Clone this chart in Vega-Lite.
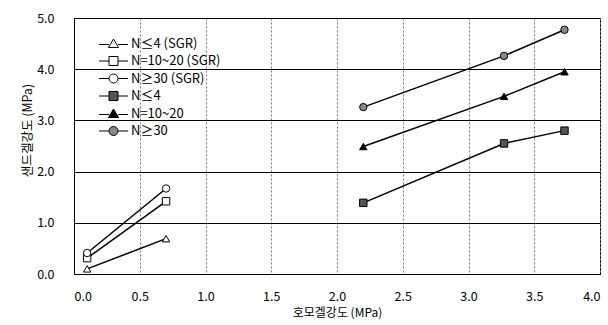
{
  "$schema": "https://vega.github.io/schema/vega-lite/v6.json",
  "width": 526,
  "height": 256,
  "autosize": {"type": "none"},
  "padding": {"left": 74, "top": 18, "right": 8, "bottom": 51},
  "background": "white",
  "config": {
    "font": "Noto Sans CJK KR",
    "view": {"stroke": "black", "strokeWidth": 1},
    "axis": {
      "labelFont": "Noto Sans CJK KR",
      "titleFont": "Noto Sans CJK KR",
      "labelFontSize": 12.5,
      "titleFontSize": 12.5,
      "titleFontWeight": "normal",
      "labelColor": "black",
      "titleColor": "black",
      "domainColor": "black",
      "ticks": false
    },
    "legend": {"labelFont": "Noto Sans CJK KR"}
  },
  "data": {
    "values": [
      {"series": "N≤4 (SGR)", "x": 0.1, "y": 0.1},
      {"series": "N≤4 (SGR)", "x": 0.7, "y": 0.69},
      {"series": "N=10~20 (SGR)", "x": 0.1, "y": 0.31},
      {"series": "N=10~20 (SGR)", "x": 0.7, "y": 1.42},
      {"series": "N≥30 (SGR)", "x": 0.1, "y": 0.41},
      {"series": "N≥30 (SGR)", "x": 0.7, "y": 1.67},
      {"series": "N≤4", "x": 2.2, "y": 1.39},
      {"series": "N≤4", "x": 3.27, "y": 2.55},
      {"series": "N≤4", "x": 3.73, "y": 2.8},
      {"series": "N=10~20", "x": 2.2, "y": 2.49},
      {"series": "N=10~20", "x": 3.27, "y": 3.47},
      {"series": "N=10~20", "x": 3.73, "y": 3.95},
      {"series": "N≥30", "x": 2.2, "y": 3.26},
      {"series": "N≥30", "x": 3.27, "y": 4.26},
      {"series": "N≥30", "x": 3.73, "y": 4.77}
    ]
  },
  "encoding": {
    "x": {
      "field": "x",
      "type": "quantitative",
      "scale": {"domain": [0, 4], "nice": false},
      "axis": {
        "title": "호모겔강도 (MPa)",
        "values": [0, 0.5, 1, 1.5, 2, 2.5, 3, 3.5, 4],
        "format": ".1f",
        "grid": true,
        "gridDash": [2, 2],
        "gridColor": "#777",
        "gridWidth": 1,
        "labelPadding": 16,
        "titlePadding": 5,
        "titleFontSize": 12
      }
    },
    "y": {
      "field": "y",
      "type": "quantitative",
      "scale": {"domain": [0, 5], "nice": false},
      "axis": {
        "title": "샌드겔강도 (MPa)",
        "values": [0, 1, 2, 3, 4, 5],
        "format": ".1f",
        "grid": true,
        "gridColor": "black",
        "gridWidth": 1,
        "gridOpacity": 1,
        "labelPadding": 20,
        "titlePadding": 2,
        "titleY": 112
      }
    }
  },
  "layer": [
    {
      "mark": {"type": "line", "color": "black", "strokeWidth": 1.5},
      "encoding": {"detail": {"field": "series"}}
    },
    {
      "mark": {"type": "point", "filled": true, "stroke": "black", "strokeWidth": 1, "size": 55, "opacity": 1},
      "encoding": {
        "shape": {
          "field": "series",
          "scale": {
            "domain": ["N≤4 (SGR)", "N=10~20 (SGR)", "N≥30 (SGR)", "N≤4", "N=10~20", "N≥30"],
            "range": ["triangle-up", "square", "circle", "square", "triangle-up", "circle"]
          },
          "legend": null
        },
        "fill": {
          "field": "series",
          "scale": {
            "domain": ["N≤4 (SGR)", "N=10~20 (SGR)", "N≥30 (SGR)", "N≤4", "N=10~20", "N≥30"],
            "range": ["white", "white", "white", "#555555", "black", "#888888"]
          },
          "legend": null
        }
      }
    },
    {
      "transform": [{"filter": "false"}],
      "mark": {"type": "point", "filled": true, "stroke": "black", "strokeWidth": 1, "size": 64, "opacity": 1},
      "encoding": {
        "shape": {
          "field": "series",
          "scale": {
            "domain": ["N≤4 (SGR)", "N=10~20 (SGR)", "N≥30 (SGR)", "N≤4", "N=10~20", "N≥30"],
            "range": [
              "M-2.9,0.2H-0.9M0.9,0.2H2.9M0,-0.9L1,0.8H-1Z",
              "M-2.9,0H-0.9M0.9,0H2.9M-0.9,-0.9H0.9V0.9H-0.9Z",
              "M-2.9,0H-0.9M0.9,0H2.9M-0.9,0A0.9,0.9,0,1,0,0.9,0A0.9,0.9,0,1,0,-0.9,0Z",
              "M-2.9,0H-0.9M0.9,0H2.9M-0.9,-0.9H0.9V0.9H-0.9Z",
              "M-2.9,0.2H-0.9M0.9,0.2H2.9M0,-0.9L1,0.8H-1Z",
              "M-2.9,0H-0.9M0.9,0H2.9M-0.9,0A0.9,0.9,0,1,0,0.9,0A0.9,0.9,0,1,0,-0.9,0Z"
            ]
          },
          "legend": {
            "title": null,
            "orient": "none",
            "legendX": 33,
            "legendY": 19,
            "padding": 0,
            "labelFontSize": 13,
            "labelColor": "black",
            "labelOffset": 11,
            "rowPadding": 3.5,
            "symbolStrokeWidth": 1
          }
        },
        "fill": {
          "field": "series",
          "scale": {
            "domain": ["N≤4 (SGR)", "N=10~20 (SGR)", "N≥30 (SGR)", "N≤4", "N=10~20", "N≥30"],
            "range": ["white", "white", "white", "#555555", "black", "#888888"]
          },
          "legend": {
            "title": null,
            "orient": "none",
            "legendX": 33,
            "legendY": 19,
            "padding": 0,
            "labelFontSize": 13,
            "labelColor": "black",
            "labelOffset": 11,
            "rowPadding": 3.5,
            "symbolStrokeWidth": 1
          }
        }
      }
    }
  ],
  "resolve": {"scale": {"shape": "independent", "fill": "independent"}}
}
